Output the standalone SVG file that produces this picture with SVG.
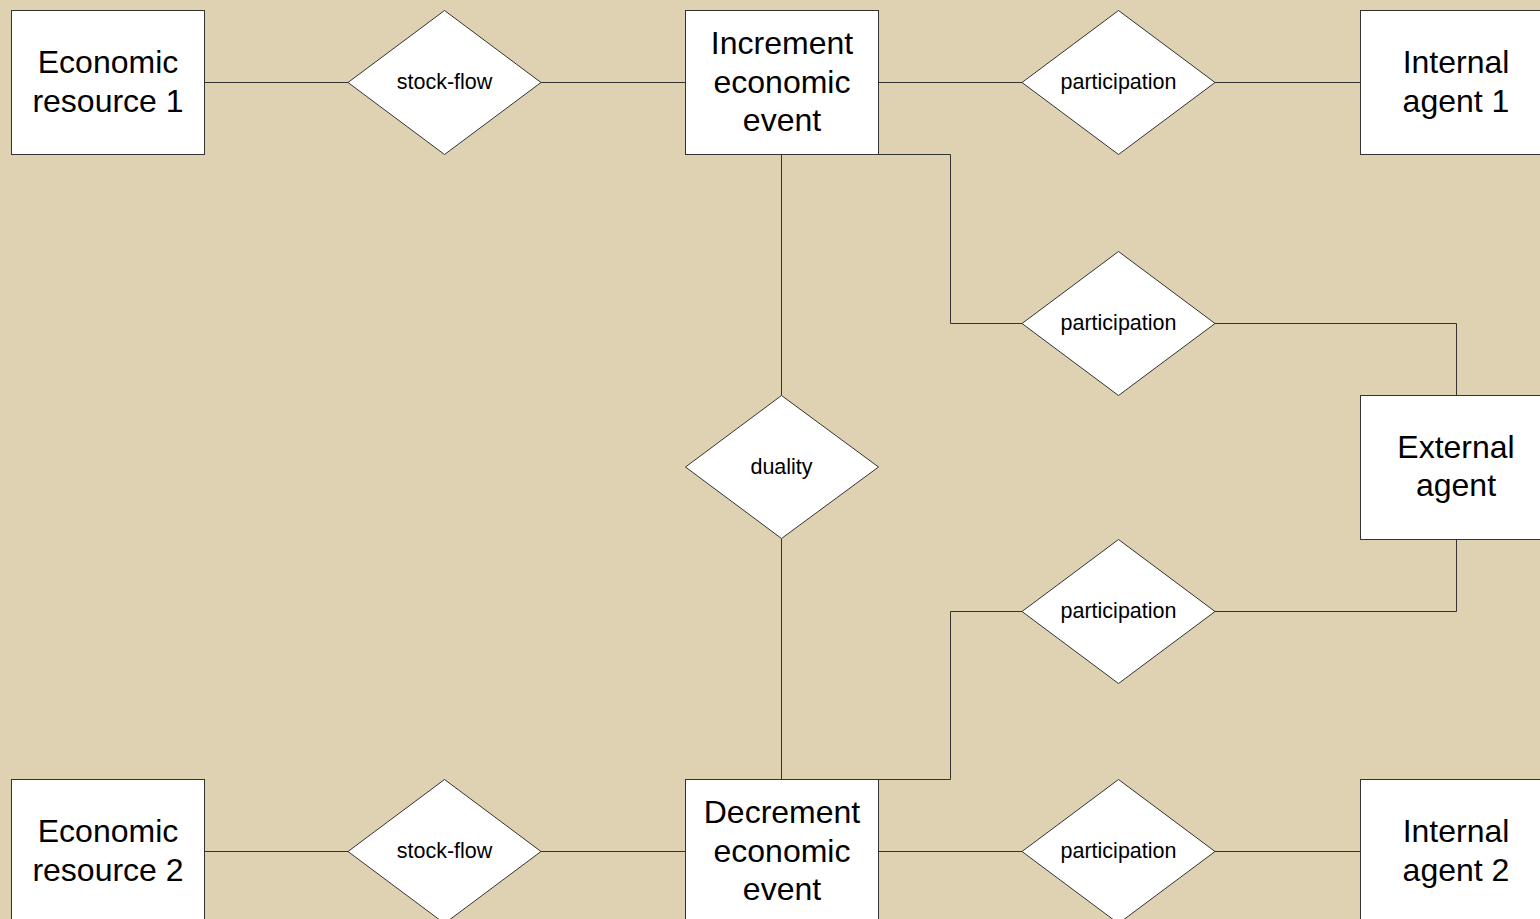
<svg xmlns="http://www.w3.org/2000/svg" width="1540" height="919" viewBox="0 0 1540 919">
<style>
.box{fill:#fff;stroke:#333;stroke-width:1}
.dia{fill:#fff;stroke:#333;stroke-width:1}
.big{font-family:"Liberation Sans",Arial,sans-serif;font-size:32px;fill:#000;text-anchor:middle}
.sm{font-family:"Liberation Sans",Arial,sans-serif;font-size:21.5px;fill:#000;text-anchor:middle}
.con{fill:none;stroke:#333;stroke-width:1}
</style>
<rect x="0" y="0" width="1540" height="919" fill="#DFD2B2"/>
<g id="connectors">
<path class="con" d="M204.5 82.5H348"/>
<path class="con" d="M541 82.5H685.5"/>
<path class="con" d="M878.5 82.5H1022"/>
<path class="con" d="M1215 82.5H1360.5"/>
<path class="con" d="M781.5 154.5V395.5"/>
<path class="con" d="M781.5 538.5V779.5"/>
<path class="con" d="M878.5 154.5H950.5V323.5H1022"/>
<path class="con" d="M1215 323.5H1456.5V395.5"/>
<path class="con" d="M1456.5 539.5V611.5H1215"/>
<path class="con" d="M1022 611.5H950.5V779.5H878.5"/>
<path class="con" d="M204.5 851.5H348"/>
<path class="con" d="M541 851.5H685.5"/>
<path class="con" d="M878.5 851.5H1022"/>
<path class="con" d="M1215 851.5H1360.5"/>
</g>
<g id="economic-resource-1">
<rect class="box" x="11.5" y="10.5" width="193" height="144"/>
<text class="big" x="108" y="73">Economic</text>
<text class="big" x="108" y="111.5">resource 1</text>
</g>
<g id="stock-flow-1">
<polygon class="dia" points="444.5,10.5 541,82.5 444.5,154.5 348,82.5"/>
<text class="sm" x="444.5" y="89">stock-flow</text>
</g>
<g id="increment-economic-event">
<rect class="box" x="685.5" y="10.5" width="193" height="144"/>
<text class="big" x="782" y="54">Increment</text>
<text class="big" x="782" y="92.5">economic</text>
<text class="big" x="782" y="131">event</text>
</g>
<g id="participation-1">
<polygon class="dia" points="1118.5,10.5 1215,82.5 1118.5,154.5 1022,82.5"/>
<text class="sm" x="1118.5" y="89">participation</text>
</g>
<g id="internal-agent-1">
<rect class="box" x="1360.5" y="10.5" width="193" height="144"/>
<text class="big" x="1456" y="73">Internal</text>
<text class="big" x="1456" y="111.5">agent 1</text>
</g>
<g id="participation-2">
<polygon class="dia" points="1118.5,251.5 1215,323.5 1118.5,395.5 1022,323.5"/>
<text class="sm" x="1118.5" y="330">participation</text>
</g>
<g id="duality">
<polygon class="dia" points="781.5,395.5 878.5,467 781.5,538.5 685.5,467"/>
<text class="sm" x="781.5" y="473.5">duality</text>
</g>
<g id="external-agent">
<rect class="box" x="1360.5" y="395.5" width="193" height="144"/>
<text class="big" x="1456" y="457.5">External</text>
<text class="big" x="1456" y="496">agent</text>
</g>
<g id="participation-3">
<polygon class="dia" points="1118.5,539.5 1215,611.5 1118.5,683.5 1022,611.5"/>
<text class="sm" x="1118.5" y="618">participation</text>
</g>
<g id="economic-resource-2">
<rect class="box" x="11.5" y="779.5" width="193" height="144"/>
<text class="big" x="108" y="842">Economic</text>
<text class="big" x="108" y="880.5">resource 2</text>
</g>
<g id="stock-flow-2">
<polygon class="dia" points="444.5,779.5 541,851.5 444.5,923.5 348,851.5"/>
<text class="sm" x="444.5" y="858">stock-flow</text>
</g>
<g id="decrement-economic-event">
<rect class="box" x="685.5" y="779.5" width="193" height="144"/>
<text class="big" x="782" y="823">Decrement</text>
<text class="big" x="782" y="861.5">economic</text>
<text class="big" x="782" y="900">event</text>
</g>
<g id="participation-4">
<polygon class="dia" points="1118.5,779.5 1215,851.5 1118.5,923.5 1022,851.5"/>
<text class="sm" x="1118.5" y="858">participation</text>
</g>
<g id="internal-agent-2">
<rect class="box" x="1360.5" y="779.5" width="193" height="144"/>
<text class="big" x="1456" y="842">Internal</text>
<text class="big" x="1456" y="880.5">agent 2</text>
</g>
</svg>
